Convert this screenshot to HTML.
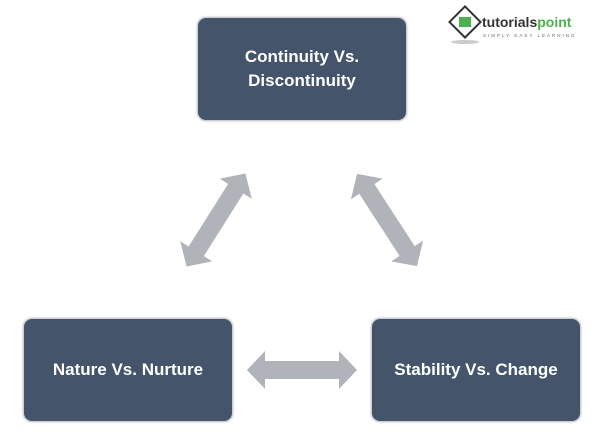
<!DOCTYPE html>
<html><head><style>
body{margin:0;width:600px;height:434px;background:#fff;overflow:hidden;position:relative;font-family:"Liberation Sans",sans-serif}
.b{position:absolute;width:208px;height:102px;background:#44546a;border:1px solid #c9ced6;border-radius:9px;color:#fff;font-weight:bold;font-size:17px;display:flex;align-items:center;justify-content:center;text-align:center;line-height:24px;box-shadow:0 0 2px #bbb}
</style></head><body>
<svg width="600" height="434" style="position:absolute;left:0;top:0">
<defs><polygon id="a" points="-55,0 -37,-19 -37,-9 37,-9 37,-19 55,0 37,19 37,9 -37,9 -37,19" fill="#b0b3b9"/></defs>
<use href="#a" transform="translate(302,370)"/>
<use href="#a" transform="translate(216,220) rotate(-57.7)"/>
<use href="#a" transform="translate(387,220) rotate(57)"/>
<g transform="translate(465,22)">
<rect x="-11" y="-11" width="22" height="22" transform="rotate(45)" fill="#fff" stroke="#333" stroke-width="2"/>
<rect x="-6" y="-5" width="12" height="10" fill="#4caf50"/>
<ellipse cx="0" cy="20" rx="14" ry="2" fill="#ccc"/>
</g>
<text x="482" y="27" font-family="Liberation Sans" font-weight="bold" font-size="14" fill="#333">tutorials<tspan fill="#4caf50">point</tspan></text>
<text x="483" y="37" font-family="Liberation Sans" font-size="4.5" fill="#666" letter-spacing="2">SIMPLY EASY LEARNING</text>
</svg>
<div class="b" style="left:197px;top:17px">Continuity Vs.<br>Discontinuity</div>
<div class="b" style="left:23px;top:318px">Nature Vs. Nurture</div>
<div class="b" style="left:371px;top:318px">Stability Vs. Change</div>
</body></html>
